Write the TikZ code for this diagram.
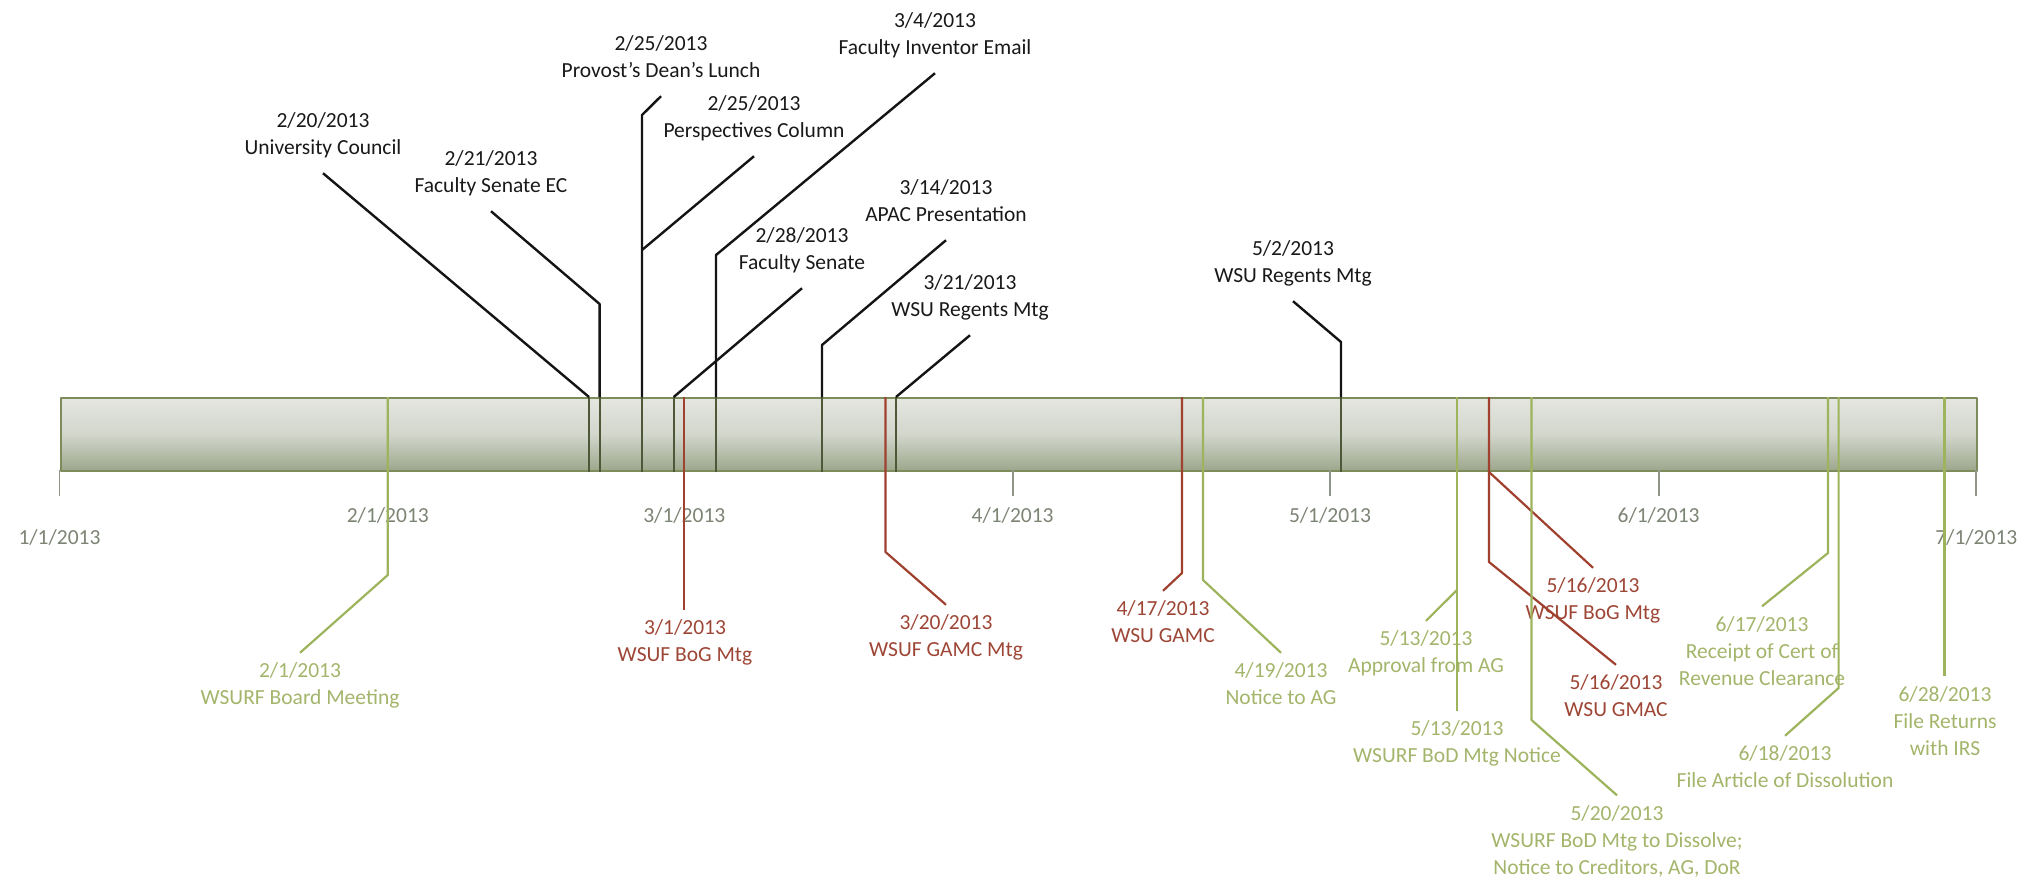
\documentclass[tikz,border=0pt]{standalone}
\usepackage{fontspec}
\setmainfont{Carlito}
\usepackage{tikz}

\definecolor{barframe}{HTML}{7D8C5A}
\definecolor{bartop}{HTML}{E4E6E0}
\definecolor{barmid}{HTML}{D2D6CB}
\definecolor{barbot}{HTML}{9CA68B}
\definecolor{inbar}{HTML}{4E5838}
\definecolor{evred}{HTML}{A0402E}
\definecolor{evgrn}{HTML}{9DB35C}
\definecolor{txred}{HTML}{9E4636}
\definecolor{txgrn}{HTML}{A3B56B}
\definecolor{txaxis}{HTML}{7C8474}

\begin{document}
\begin{tikzpicture}[x=1pt, y=-1pt, line join=round,
  lab/.style={align=center, inner xsep=2pt, inner ysep=10pt,
    font=\fontsize{21.5}{27}\selectfont,
    execute at begin node=\strut, execute at end node=\strut},
  blklab/.style={lab, text=black!90},
  redlab/.style={lab, text=txred},
  grnlab/.style={lab, text=txgrn},
  axlab/.style={lab, inner ysep=0pt, text=txaxis},
  blkline/.style={draw=black!92, line width=2.4pt},
  redline/.style={draw=evred, line width=2.2pt},
  grnline/.style={draw=evgrn, line width=2.2pt},
  inbarline/.style={draw=inbar, line width=2pt},
  mtick/.style={draw=txaxis!85, line width=1.8pt}]
\useasboundingbox (0,0) rectangle (2030,879);

\node[draw=barframe, line width=2pt, top color=bartop, bottom color=barbot, middle color=barmid,
  minimum width=1916.8pt, minimum height=73pt, inner sep=0pt, anchor=north west] (bar) at (59.5,397) {};

\foreach \n/\x in {0201/387.8, 0220/589, 0221/599.6, 0225/642, 0228/673.7, 0301/684.3,
  0304/716, 0314/822, 0320/885.5, 0321/896, 0417/1182, 0419/1203, 0502/1341,
  0513/1457, 0516/1489, 0520/1531.5, 0617/1828, 0618/1838.6, 0628/1944.5}
  {\coordinate (e\n) at (\x,397);}

\foreach \n in {0220,0221,0225,0228,0304,0314,0321,0502}
  {\draw[inbarline] (e\n) -- (e\n |- bar.south);}

\foreach \x/\m/\y in {59.5/1/539, 387.8/2/517, 684.3/3/517, 1012.6/4/517,
  1330/5/517, 1658.6/6/517, 1976.3/7/539}{
  \draw[mtick] (\x,470) -- (\x,496);
  \node[axlab] (m\m) at (\x,\y) {\m/1/2013};
}

\node[blklab] (council)  at (323,138)  {2/20/2013\\University Council};
\node[blklab] (senateec) at (491,176)  {2/21/2013\\Faculty Senate EC};
\node[blklab] (lunch)    at (661,61)   {2/25/2013\\Provost's Dean's Lunch};
\node[blklab] (column)   at (754,121)  {2/25/2013\\Perspectives Column};
\node[blklab] (senate)   at (802,253)  {2/28/2013\\Faculty Senate};
\node[blklab] (email)    at (935,38)   {3/4/2013\\Faculty Inventor Email};
\node[blklab] (apac)     at (946,205)  {3/14/2013\\APAC Presentation};
\node[blklab] (regents1) at (970,300)  {3/21/2013\\WSU Regents Mtg};
\node[blklab] (regents2) at (1293,266) {5/2/2013\\WSU Regents Mtg};

\draw[blkline] (council.south) -- (e0220);
\draw[blkline] (senateec.south) -- (599.6,304) -- (e0221);
\draw[blkline] (lunch.south) -- (642,115) -- (e0225);
\draw[blkline] (column.south) -- (642,250);
\draw[blkline] (senate.south) -- (e0228);
\draw[blkline] (email.south) -- (716,255) -- (e0304);
\draw[blkline] (apac.south) -- (822,345) -- (e0314);
\draw[blkline] (regents1.south) -- (e0321);
\draw[blkline] (regents2.south) -- (1341,342) -- (e0502);

\node[grnlab] (wboard)   at (300,688)  {2/1/2013\\WSURF Board Meeting};
\node[redlab] (bog1)     at (685,645)  {3/1/2013\\WSUF BoG Mtg};
\node[redlab] (gamc1)    at (946,640)  {3/20/2013\\WSUF GAMC Mtg};
\node[redlab] (gamc2)    at (1163,626) {4/17/2013\\WSU GAMC};
\node[grnlab] (agnote)   at (1281,688) {4/19/2013\\Notice to AG};
\node[grnlab] (agok)     at (1426,656) {5/13/2013\\Approval from AG};
\node[grnlab] (bodnote)  at (1457,746) {5/13/2013\\WSURF BoD Mtg Notice};
\node[redlab] (bog2)     at (1593,603) {5/16/2013\\WSUF BoG Mtg};
\node[redlab] (gmac)     at (1616,700) {5/16/2013\\WSU GMAC};
\node[grnlab] (dissolve) at (1617,844) {5/20/2013\\WSURF BoD Mtg to Dissolve;\\Notice to Creditors, AG, DoR};
\node[grnlab] (cert)     at (1762,655) {6/17/2013\\Receipt of Cert of\\Revenue Clearance};
\node[grnlab] (article)  at (1785,771) {6/18/2013\\File Article of Dissolution};
\node[grnlab] (irs)      at (1945,725) {6/28/2013\\File Returns\\with IRS};

\draw[grnline] (e0201) -- (387.8,575) -- (wboard.north);
\draw[redline] (e0301) -- (e0301 |- bog1.north);
\draw[redline] (e0320) -- (885.5,552) -- (gamc1.north);
\draw[redline] (e0417) -- (1182,573) -- (gamc2.north);
\draw[grnline] (e0419) -- (1203,580) -- (agnote.north);
\draw[grnline] (e0513) -- (e0513 |- bodnote.north);
\draw[grnline] (1457,590) -- (agok.north);
\draw[redline] (e0516) -- (1489,562) -- (gmac.north);
\draw[redline] (1489,472) -- (bog2.north);
\draw[grnline] (e0520) -- (1531.5,720) -- (dissolve.north);
\draw[grnline] (e0617) -- (1828,553) -- (cert.north);
\draw[grnline] (e0618) -- (1838.6,688) -- (article.north);
\draw[grnline] (e0628) -- (e0628 |- irs.north);
\end{tikzpicture}
\end{document}
